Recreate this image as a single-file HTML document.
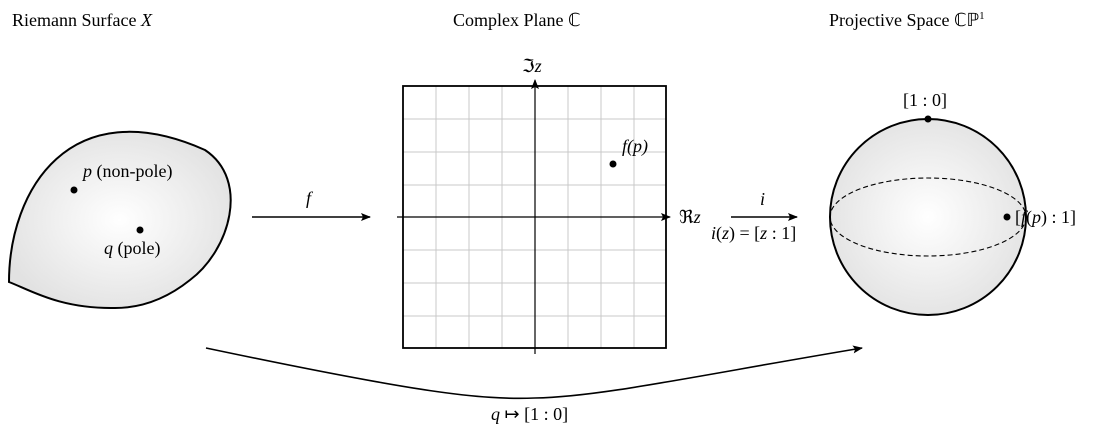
<!DOCTYPE html>
<html><head><style>body{margin:0;background:#fff}svg text{font-family:"Liberation Serif",serif;font-size:18px;fill:#000}</style></head><body>
<svg width="1108" height="438" viewBox="0 0 1108 438" xmlns="http://www.w3.org/2000/svg">
<defs>
<radialGradient id="g" cx="50%" cy="50%" r="55%"><stop offset="0" stop-color="#fff"/><stop offset="1" stop-color="#e2e2e2"/></radialGradient>
<marker id="a" markerWidth="10" markerHeight="8" refX="9" refY="4" orient="auto" markerUnits="userSpaceOnUse"><path d="M0,0 L10,4 L0,8 L2,4 Z" fill="#000"/></marker>
</defs>
<text x="12" y="26">Riemann Surface <tspan font-style="italic">X</tspan></text>
<text x="453" y="26">Complex Plane ℂ</text>
<text x="829" y="26">Projective Space ℂℙ<tspan font-size="11" dy="-7">1</tspan></text>
<path d="M9,282 C9,190 70,90 205,150 C250,180 230,250 190,280 C165,300 140,308 115,308 C60,309 30,290 9,282 Z" fill="url(#g)" stroke="#000" stroke-width="2"/>
<circle cx="74" cy="190" r="3.5"/><circle cx="140" cy="230" r="3.5"/>
<text x="83" y="177"><tspan font-style="italic">p</tspan> (non-pole)</text>
<text x="104" y="254"><tspan font-style="italic">q</tspan> (pole)</text>
<line x1="252" y1="217" x2="370" y2="217" stroke="#000" stroke-width="1.6" marker-end="url(#a)"/>
<text x="306" y="204" font-style="italic">f</text>
<g stroke="#c8c8c8" stroke-width="1">
<path d="M436,86V348M469,86V348M502,86V348M568,86V348M601,86V348M634,86V348M403,119H666M403,152H666M403,185H666M403,250H666M403,283H666M403,316H666"/>
</g>
<rect x="403" y="86" width="263" height="262" fill="none" stroke="#000" stroke-width="1.8"/>
<line x1="397" y1="217" x2="670" y2="217" stroke="#000" stroke-width="1.2" marker-end="url(#a)"/>
<line x1="535" y1="354" x2="535" y2="80" stroke="#000" stroke-width="1.2" marker-end="url(#a)"/>
<text x="522" y="72">ℑ<tspan font-style="italic">z</tspan></text>
<text x="679" y="223">ℜ<tspan font-style="italic">z</tspan></text>
<circle cx="613" cy="164" r="3.5"/>
<text x="622" y="152" font-style="italic">f(p)</text>
<line x1="731" y1="217" x2="797" y2="217" stroke="#000" stroke-width="1.6" marker-end="url(#a)"/>
<text x="760" y="205" font-style="italic">i</text>
<text x="711" y="239" font-size="16"><tspan font-style="italic">i</tspan>(<tspan font-style="italic">z</tspan>) = [<tspan font-style="italic">z</tspan> : 1]</text>
<circle cx="928" cy="217" r="98" fill="url(#g)" stroke="#000" stroke-width="2"/>
<ellipse cx="928" cy="217" rx="98" ry="39" fill="none" stroke="#000" stroke-width="1.1" stroke-dasharray="5,3"/>
<circle cx="928" cy="119" r="3.5"/><circle cx="1007" cy="217" r="3.5"/>
<text x="903" y="106">[1 : 0]</text>
<text x="1015" y="223">[<tspan font-style="italic">f</tspan>(<tspan font-style="italic">p</tspan>) : 1]</text>
<path d="M206,348 C420,393 480,400 535,398 C600,397 700,375 862,348" fill="none" stroke="#000" stroke-width="1.6" marker-end="url(#a)"/>
<text x="491" y="420" font-size="16"><tspan font-style="italic">q</tspan> ↦ [1 : 0]</text>
</svg>
</body></html>
